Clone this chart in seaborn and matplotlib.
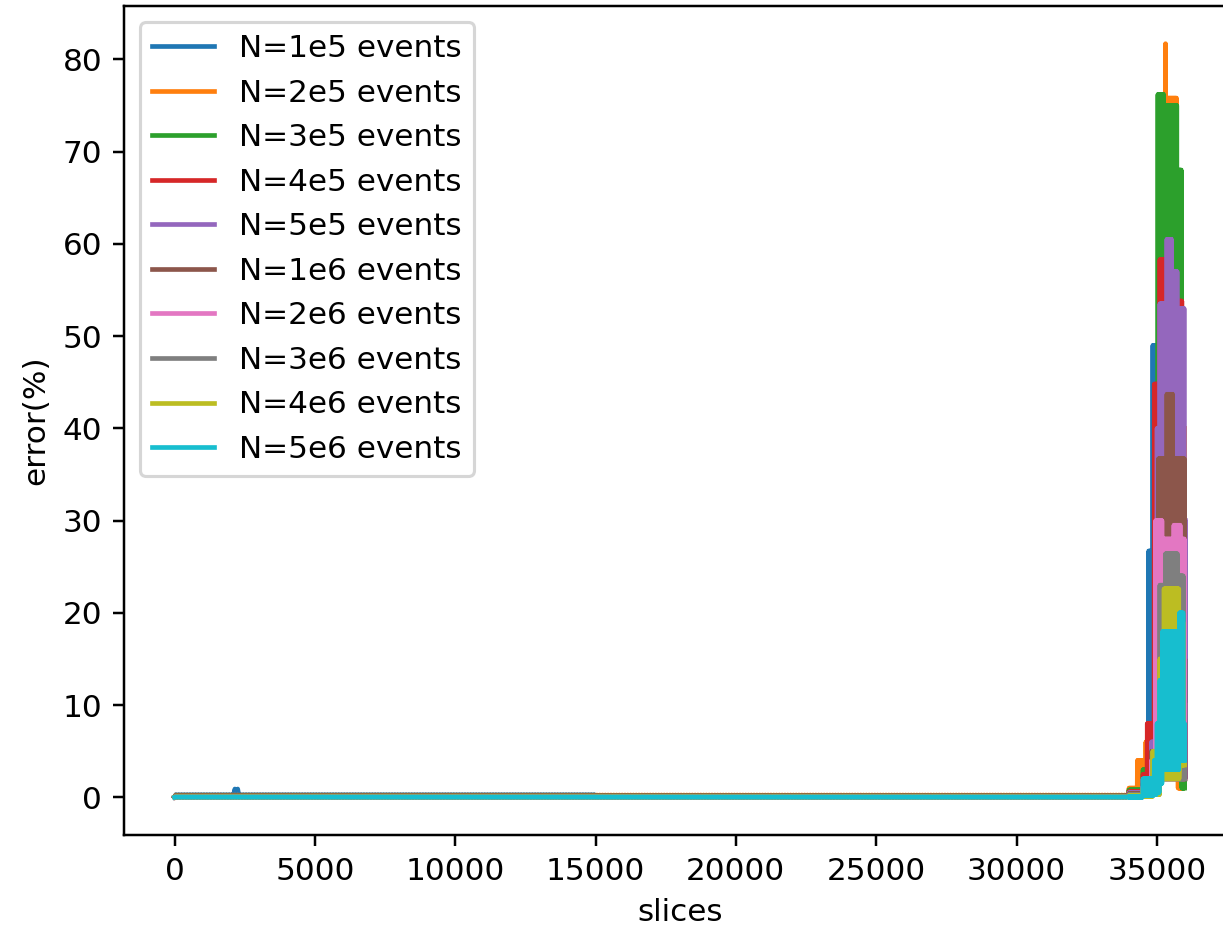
import numpy as np
import pandas as pd
import matplotlib
matplotlib.use("Agg")
import matplotlib.pyplot as plt
import seaborn as sns

# Series labels (legend order)
labels = ["N=1e5 events", "N=2e5 events", "N=3e5 events", "N=4e5 events",
          "N=5e5 events", "N=1e6 events", "N=2e6 events", "N=3e6 events",
          "N=4e6 events", "N=5e6 events"]

# Read-off envelopes of each noisy series: (slice_start, slice_end, low, high)
seg_1e5 = [(0, 2100, 0.05, 0.3), (2100, 2300, 0.2, 0.9), (2300, 15000, 0.05, 0.3),
           (15000, 34000, 0.03, 0.2), (34000, 34400, 0.1, 0.8), (34400, 34700, 0.3, 2.0),
           (34700, 34850, 1.0, 26.7), (34850, 35000, 2.0, 49.0), (35000, 35900, 3.0, 45.0),
           (35900, 36000, 2.0, 15.0)]
seg_2e5 = [(0, 34000, 0.03, 0.25), (34000, 34300, 0.1, 1.0), (34300, 34600, 0.5, 4.0),
           (34600, 34950, 1.0, 6.0), (34950, 35250, 2.0, 40.0), (35250, 35300, 2.0, 70.0),
           (35300, 35330, 2.0, 81.7), (35330, 35720, 2.0, 75.8), (35720, 35760, 2.0, 64.6),
           (35760, 36000, 1.0, 40.0)]
seg_3e5 = [(0, 34000, 0.03, 0.2), (34000, 34500, 0.1, 0.8), (34500, 34800, 0.3, 3.0),
           (34800, 35030, 0.5, 7.0), (35030, 35250, 2.0, 76.2), (35250, 35340, 2.0, 60.0),
           (35340, 35720, 2.0, 75.0), (35720, 35890, 2.0, 68.0), (35890, 36000, 1.0, 30.0)]
seg_4e5 = [(0, 34000, 0.02, 0.17), (34000, 34500, 0.1, 0.6), (34500, 34650, 0.3, 2.5),
           (34650, 34900, 0.5, 8.0), (34900, 35100, 3.0, 44.8), (35100, 35300, 3.0, 58.3),
           (35300, 35700, 3.0, 50.0), (35700, 35900, 3.0, 53.8), (35900, 36000, 2.0, 20.0)]
seg_5e5 = [(0, 34000, 0.02, 0.14), (34000, 34500, 0.05, 0.5), (34500, 34800, 0.2, 2.0),
           (34800, 35000, 0.5, 6.0), (35000, 35100, 2.0, 40.0), (35100, 35350, 2.0, 53.5),
           (35350, 35530, 2.0, 60.5), (35530, 35740, 2.0, 57.0), (35740, 35990, 2.0, 53.0),
           (35990, 36030, 2.0, 30.0)]
seg_1e6 = [(0, 34000, 0.02, 0.1), (34000, 34500, 0.05, 0.4), (34500, 34800, 0.2, 1.5),
           (34800, 35050, 0.3, 5.0), (35050, 35350, 3.0, 36.7), (35350, 35570, 3.0, 43.7),
           (35570, 35990, 3.0, 36.7), (35990, 36020, 2.0, 15.0)]
seg_2e6 = [(0, 34000, 0.01, 0.08), (34000, 34500, 0.05, 0.3), (34500, 34800, 0.2, 1.2),
           (34800, 34950, 0.3, 4.0), (34950, 35200, 2.0, 30.0), (35200, 35600, 2.0, 28.0),
           (35600, 35850, 2.0, 29.5), (35850, 35990, 2.0, 28.0), (35990, 36010, 2.0, 10.0)]
seg_3e6 = [(0, 34000, 0.01, 0.07), (34000, 34500, 0.03, 0.3), (34500, 34850, 0.1, 1.0),
           (34850, 35100, 0.3, 5.0), (35100, 35300, 2.0, 23.0), (35300, 35750, 2.0, 26.4),
           (35750, 35950, 2.0, 24.0), (35950, 36000, 2.0, 8.0)]
seg_4e6 = [(0, 34000, 0.01, 0.06), (34000, 34500, 0.02, 0.2), (34500, 34850, 0.1, 1.0),
           (34850, 35100, 0.3, 5.0), (35100, 35250, 2.0, 15.0), (35250, 35800, 2.0, 22.6),
           (35800, 35950, 3.5, 19.0), (35950, 36000, 3.5, 5.0)]
seg_5e6 = [(0, 34000, 0.0, 0.05), (34000, 34500, 0.0, 0.1), (34500, 34900, 0.2, 2.0),
           (34900, 35000, 0.3, 4.0), (35000, 35100, 0.5, 8.0), (35100, 35200, 1.5, 12.7),
           (35200, 35800, 3.0, 18.0), (35800, 35950, 4.0, 20.0), (35950, 36000, 4.0, 8.0)]

segments = [seg_1e5, seg_2e5, seg_3e5, seg_4e5, seg_5e5,
            seg_1e6, seg_2e6, seg_3e6, seg_4e6, seg_5e6]


def build(segs):
    xs, ys = [], []
    for a, b, lo, hi in segs:
        step = 10 if a >= 34000 else 50
        x = np.arange(a, b, step)
        y = np.where(np.arange(len(x)) % 2 == 0, lo, hi)
        xs.append(x)
        ys.append(y)
    return np.concatenate(xs), np.concatenate(ys)


W, H, DPI = 1223, 930, 224
fig = plt.figure(figsize=(W / DPI, H / DPI), dpi=DPI)
ax = fig.add_axes([124 / W, 95 / H, 1112 / W, 829 / H])

palette = sns.color_palette("tab10", 10)
for lab, segs, col in zip(labels, segments, palette):
    x, y = build(segs)
    df = pd.DataFrame({"slices": x, "error": y})
    sns.lineplot(data=df, x="slices", y="error", ax=ax, color=col, label=lab,
                 estimator=None, sort=False, linewidth=1.5)

ax.set_xlabel("slices")
ax.set_ylabel("error(%)")
ax.set_xticks([0, 5000, 10000, 15000, 20000, 25000, 30000, 35000])
ax.set_yticks([0, 10, 20, 30, 40, 50, 60, 70, 80])
ax.legend(loc="upper left")

fig.savefig("out.png", dpi=DPI)
